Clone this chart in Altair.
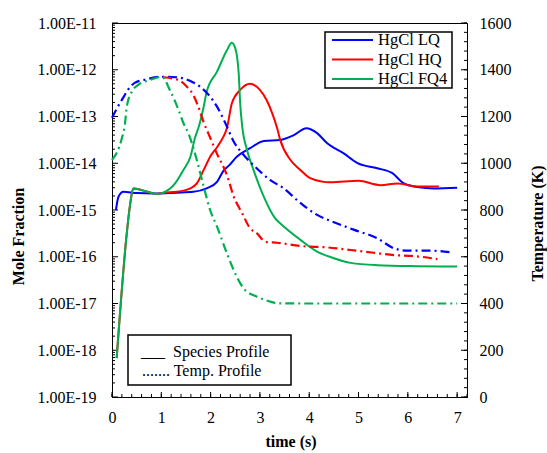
import altair as alt
import pandas as pd

# ---------------- data ----------------
series_names = ["HgCl LQ", "HgCl HQ", "HgCl FQ4"]
series_colors = ["#0000FF", "#FF0000", "#00B050"]

# Species profiles (mole fraction, log axis)
lq_t = [0.08, 0.13, 0.23, 0.50, 0.84, 1.31, 1.65, 1.92, 2.13, 2.26, 2.37, 2.53, 2.80,
        3.08, 3.41, 3.69, 3.94, 4.16, 4.36, 4.70, 4.97, 5.38, 5.68, 5.92, 6.19, 6.53, 7.00]
lq_v = [1.0e-15, 1.9e-15, 2.45e-15, 2.3e-15, 2.25e-15, 2.35e-15, 2.45e-15, 2.9e-15, 4.0e-15,
        6.9e-15, 8.9e-15, 1.38e-14, 2.1e-14, 3.0e-14, 3.15e-14, 4.0e-14, 5.6e-14, 4.4e-14,
        2.7e-14, 1.62e-14, 1.02e-14, 7.8e-15, 6.2e-15, 3.7e-15, 3.1e-15, 2.9e-15, 3.0e-15]

hq_t = [0.095, 0.30, 0.37, 0.43, 0.64, 0.91, 1.04, 1.31, 1.59, 1.72, 1.86, 1.99, 2.13, 2.26,
        2.33, 2.43, 2.60, 2.80, 3.00, 3.14, 3.25, 3.35, 3.41, 3.62, 3.82, 4.02, 4.43, 5.00,
        5.45, 5.79, 6.19, 6.63]
hq_v = [6.8e-19, 3.2e-16, 1.38e-15, 2.9e-15, 2.6e-15, 2.2e-15, 2.35e-15, 2.45e-15, 2.9e-15,
        3.7e-15, 7.2e-15, 1.38e-14, 2.2e-14, 3.7e-14, 5.6e-14, 1.9e-13, 3.7e-13, 5.0e-13,
        3.7e-13, 2.2e-13, 1.17e-13, 5.6e-14, 3.2e-14, 1.17e-14, 7.2e-15, 4.8e-15, 3.9e-15,
        4.2e-15, 3.4e-15, 3.7e-15, 3.2e-15, 3.2e-15]

fq4_t = [0.095, 0.30, 0.37, 0.43, 0.64, 0.91, 1.04, 1.28, 1.45, 1.59, 1.69, 1.75, 1.86, 1.92,
         2.13, 2.33, 2.43, 2.50, 2.57, 2.60, 2.64, 2.74, 2.87, 3.08, 3.31, 3.41, 3.82, 4.16,
         4.50, 4.84, 5.38, 6.19, 7.00]
fq4_v = [6.8e-19, 3.2e-16, 1.38e-15, 2.9e-15, 2.6e-15, 2.2e-15, 2.35e-15, 3.7e-15, 7.2e-15,
         1.38e-14, 3.7e-14, 5.6e-14, 1.62e-13, 3.4e-13, 9.1e-13, 2.6e-12, 3.8e-12, 2.9e-12,
         8.3e-13, 1.9e-13, 6.3e-14, 1.9e-14, 7.2e-15, 1.9e-15, 6.6e-16, 5.2e-16, 2.3e-16,
         1.29e-16, 9.3e-17, 7.4e-17, 6.6e-17, 6.3e-17, 6.2e-17]

# Temperature profiles (K, right axis)
lq_temp_t = [0.00, 0.10, 0.20, 0.33, 0.47, 0.70, 0.98, 1.31, 1.59, 1.79, 1.99, 2.13, 2.30,
             2.47, 2.64, 2.87, 3.21, 3.48, 3.75, 3.96, 4.16, 4.45, 4.90, 5.38, 5.72, 5.99,
             6.46, 6.87]
lq_temp = [1195, 1235, 1271, 1316, 1345, 1359, 1370, 1368, 1352, 1327, 1285, 1242, 1171,
           1092, 1043, 992, 928, 893, 843, 807, 779, 752, 716, 679, 636, 626, 626, 619]

hq_temp_t = [1.04, 1.35, 1.52, 1.65, 1.75, 1.86, 1.99, 2.13, 2.26, 2.33, 2.47, 2.64, 2.80,
             2.94, 3.11, 3.35, 3.82, 4.36, 4.84, 5.31, 5.72, 6.12, 6.60]
hq_temp = [1368, 1356, 1327, 1292, 1242, 1175, 1110, 1040, 985, 950, 857, 786, 722,
           700, 664, 660, 646, 640, 629, 617, 607, 603, 590]

fq4_temp_t = [0.00, 0.20, 0.26, 0.30, 0.40, 0.53, 0.77, 1.01, 1.18, 1.35, 1.45, 1.55, 1.72,
              1.86, 1.99, 2.13, 2.33, 2.53, 2.67, 2.94, 3.21, 3.35, 4.00, 5.00, 6.00, 7.00]
fq4_temp = [1014, 1107, 1164, 1242, 1306, 1335, 1356, 1370, 1310, 1228, 1171, 1128, 1014,
            900, 800, 729, 615, 515, 465, 429, 408, 401, 400, 400, 400, 400]

# Axis tick values / labels
x_tick_values = [0, 1, 2, 3, 4, 5, 6, 7]
y_decades = [1e-19, 1e-18, 1e-17, 1e-16, 1e-15, 1e-14, 1e-13, 1e-12, 1e-11]
temp_tick_values = [0, 200, 400, 600, 800, 1000, 1200, 1400, 1600]

# ---------------- tables ----------------
species_rows = []
for name, ts, vs in zip(series_names, [lq_t, hq_t, fq4_t], [lq_v, hq_v, fq4_v]):
    for t, v in zip(ts, vs):
        species_rows.append({"t": t, "value": v, "series": name})
species_df = pd.DataFrame(species_rows)

temp_rows = []
for name, ts, vs in zip(series_names, [lq_temp_t, hq_temp_t, fq4_temp_t], [lq_temp, hq_temp, fq4_temp]):
    for t, v in zip(ts, vs):
        temp_rows.append({"t": t, "T": v, "series": name})
temp_df = pd.DataFrame(temp_rows)

y_minor = [k * d for d in y_decades[:-1] for k in range(2, 10)]
x_minor = [round(i * 0.2, 1) for i in range(0, 37)]
temp_minor = list(range(0, 1601, 40))

W, H = 355, 374
FONT = "Liberation Serif"

x_scale = alt.Scale(domain=[0, 7.2], nice=False, zero=False)
y_scale = alt.Scale(type="log", domain=[1e-19, 1e-11], nice=False)
t_scale = alt.Scale(domain=[0, 1600], nice=False, zero=False)

x_axis = alt.Axis(values=x_tick_values, format="d", title="time (s)", grid=False,
                  ticks=False, tickSize=0, labelPadding=12, labelFlush=False,
                  labelOverlap=False, titleX=W / 2 + 1, titleY=44, titleBaseline="middle",
                  titleAlign="center")
y_axis = alt.Axis(values=y_decades, labelExpr="'1.00E-' + round(-log(datum.value)/LN10)",
                  title="Mole Fraction", grid=False, ticks=False, tickSize=0,
                  labelPadding=16, labelOverlap=False, titleX=-94, titleY=H / 2 + 26,
                  titleAngle=270, titleBaseline="middle", titleAlign="center")
t_axis = alt.Axis(orient="right", values=temp_tick_values, format="d",
                  title="Temperature (K)", grid=False, ticks=False, tickSize=0,
                  labelPadding=12, labelOverlap=False, titleX=70, titleY=H / 2 + 13,
                  titleAngle=270, titleBaseline="middle", titleAlign="center")

X = alt.X("t:Q", scale=x_scale, axis=x_axis)
Y = alt.Y("value:Q", scale=y_scale, axis=y_axis)
YT = alt.Y("T:Q", scale=t_scale, axis=t_axis)

species_layers = []
for name, col in zip(series_names, series_colors):
    species_layers.append(
        alt.Chart(species_df).transform_filter(alt.datum.series == name)
        .mark_line(color=col, strokeWidth=2, interpolate="monotone")
        .encode(x=X, y=Y)
    )

temp_layers = []
for name, col in zip(series_names, series_colors):
    temp_layers.append(
        alt.Chart(temp_df).transform_filter(alt.datum.series == name)
        .mark_line(color=col, strokeWidth=2.2, strokeDash=[9, 4, 2, 4], interpolate="monotone")
        .encode(x=X, y=YT)
    )

# inward ticks
left_major = alt.Chart(pd.DataFrame({"value": y_decades})).mark_rule(color="black").encode(
    y=Y, x=alt.value(0), x2=alt.value(6))
left_minor = alt.Chart(pd.DataFrame({"value": y_minor})).mark_rule(color="black").encode(
    y=Y, x=alt.value(0), x2=alt.value(3))
bottom_major = alt.Chart(pd.DataFrame({"t": x_tick_values})).mark_rule(color="black").encode(
    x=X, y=alt.value(H), y2=alt.value(H - 5))
bottom_minor = alt.Chart(pd.DataFrame({"t": x_minor})).mark_rule(color="black").encode(
    x=X, y=alt.value(H), y2=alt.value(H - 3))
right_major = alt.Chart(pd.DataFrame({"T": temp_tick_values})).mark_rule(color="black").encode(
    y=YT, x=alt.value(W), x2=alt.value(W - 6))
right_minor = alt.Chart(pd.DataFrame({"T": temp_minor})).mark_rule(color="black").encode(
    y=YT, x=alt.value(W), x2=alt.value(W - 3))

species_group = alt.layer(left_minor, left_major, bottom_minor, bottom_major, *species_layers)
temp_group = alt.layer(right_minor, right_major, *temp_layers)

# legends
one = pd.DataFrame({"a": [0]})
legend_layers = [
    alt.Chart(one).mark_rect(fill="white", stroke="black", strokeWidth=1.5).encode(
        x=alt.value(213), x2=alt.value(340), y=alt.value(9), y2=alt.value(65))
]
for i, (name, col) in enumerate(zip(series_names, series_colors)):
    yy = 17 + i * 19.5
    legend_layers.append(
        alt.Chart(one).mark_rule(color=col, strokeWidth=2).encode(
            x=alt.value(220), x2=alt.value(261), y=alt.value(yy)))
    legend_layers.append(
        alt.Chart(one).mark_text(align="left", baseline="middle", font=FONT, fontSize=16.5,
                                 color="black").encode(
            x=alt.value(266), y=alt.value(yy), text=alt.value(name)))

legend_layers.append(
    alt.Chart(one).mark_rect(fill="white", stroke="black", strokeWidth=1.5).encode(
        x=alt.value(16), x2=alt.value(179), y=alt.value(312), y2=alt.value(362)))
legend_layers.append(
    alt.Chart(one).mark_text(align="left", baseline="middle", font=FONT, fontSize=16,
                             color="black").encode(
        x=alt.value(29), y=alt.value(329), text=alt.value("___\u00a0 Species Profile")))
legend_layers.append(
    alt.Chart(one).mark_text(align="left", baseline="middle", font=FONT, fontSize=16,
                             color="black").encode(
        x=alt.value(30), y=alt.value(348), text=alt.value("....... Temp. Profile")))

chart = alt.layer(species_group, temp_group, *legend_layers).resolve_scale(
    y="independent"
).properties(
    width=W, height=H,
    padding={"left": 112, "top": 23, "right": 80, "bottom": 56},
    autosize=alt.AutoSizeParams(type="none"),
).configure_view(
    stroke="black", strokeWidth=1
).configure_axis(
    labelFont=FONT, titleFont=FONT, labelFontSize=16, titleFontSize=16,
    labelColor="black", titleColor="black", titleFontWeight="bold",
    domainColor="black", domainWidth=1
)

chart.save("out.html", embed_options={"renderer": "svg", "actions": False})
